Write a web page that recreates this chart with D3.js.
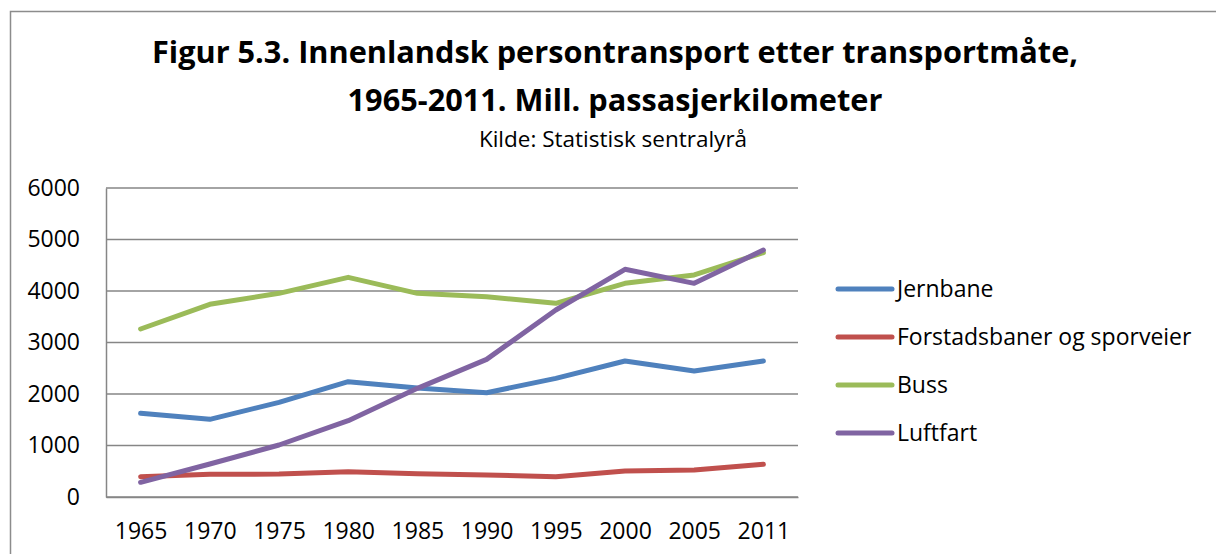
<!DOCTYPE html>
<html>
<head>
<meta charset="utf-8">
<script src="https://cdn.jsdelivr.net/npm/d3@7"></script>
<style>
  body { margin: 0; background: #fff; }
  text { font-family: "Open Sans", Lato, sans-serif; fill: #000; }
</style>
</head>
<body>
<div id="chart"></div>
<script>
var svgWidth = 1216;
var svgHeight = 554;

// data
var years = ["1965", "1970", "1975", "1980", "1985", "1990", "1995", "2000", "2005", "2011"];
var jernbane = [1625, 1508, 1838, 2239, 2116, 2025, 2304, 2641, 2447, 2641];
var forstad = [394, 440, 446, 492, 452, 427, 394, 505, 524, 634];
var buss = [3262, 3741, 3955, 4265, 3955, 3890, 3761, 4149, 4311, 4744];
var luftfart = [285, 641, 1010, 1482, 2110, 2673, 3631, 4421, 4149, 4796];
var seriesNames = ["Jernbane", "Forstadsbaner og sporveier", "Buss", "Luftfart"];
var seriesColors = ["#4F81BD", "#C0504D", "#9BBB59", "#8064A2"];
var yTicks = [0, 1000, 2000, 3000, 4000, 5000, 6000];

var series = [jernbane, forstad, buss, luftfart].map(function(vals, i) {
  return { name: seriesNames[i], color: seriesColors[i], values: vals };
});

var plot = { left: 106, right: 798, top: 188, bottom: 497 };

var svg = d3.select("#chart")
  .append("svg")
  .attr("width", svgWidth)
  .attr("height", svgHeight);

// outer chart frame
svg.append("rect")
  .attr("x", 10.5)
  .attr("y", 11.5)
  .attr("width", 1230)
  .attr("height", 600)
  .attr("fill", "none")
  .attr("stroke", "#8c8c8c")
  .attr("stroke-width", 1.5);

// titles
svg.append("text")
  .attr("x", 615)
  .attr("y", 63)
  .attr("text-anchor", "middle")
  .style("font-weight", "bold")
  .style("font-size", "30.7px")
  .text("Figur 5.3. Innenlandsk persontransport etter transportmåte,");

svg.append("text")
  .attr("x", 615)
  .attr("y", 111)
  .attr("text-anchor", "middle")
  .style("font-weight", "bold")
  .style("font-size", "30.7px")
  .text("1965-2011. Mill. passasjerkilometer");

svg.append("text")
  .attr("x", 613)
  .attr("y", 147)
  .attr("text-anchor", "middle")
  .style("font-size", "22.5px")
  .text("Kilde: Statistisk sentralyrå");

var x = d3.scalePoint()
  .domain(years)
  .range([plot.left, plot.right])
  .padding(0.5);

var y = d3.scaleLinear()
  .domain([0, 6000])
  .range([plot.bottom, plot.top]);

// gridlines
svg.append("g")
  .selectAll("line")
  .data(yTicks)
  .enter()
  .append("line")
  .attr("x1", plot.left)
  .attr("x2", plot.right)
  .attr("y1", d => y(d))
  .attr("y2", d => y(d))
  .attr("stroke", "#868686")
  .attr("stroke-width", 1.5);

// y axis
var leftAxis = d3.axisLeft(y)
  .tickValues(yTicks)
  .tickFormat(d3.format("d"))
  .tickSize(0)
  .tickPadding(26);
var yAxis = svg.append("g")
  .attr("transform", `translate(${plot.left},0)`)
  .call(leftAxis);
yAxis.select(".domain")
  .attr("stroke", "#868686")
  .attr("stroke-width", 1.5);
yAxis.selectAll("text")
  .style("font-size", "23px")
  .attr("fill", "#000");

// x axis
var bottomAxis = d3.axisBottom(x).tickSize(0).tickPadding(26);
var xAxis = svg.append("g")
  .attr("transform", `translate(0,${plot.bottom})`)
  .call(bottomAxis);
xAxis.select(".domain")
  .attr("stroke", "#868686")
  .attr("stroke-width", 1.5);
xAxis.selectAll("text")
  .style("font-size", "23px")
  .attr("fill", "#000");

// lines
var line = d3.line()
  .x((d, i) => x(years[i]))
  .y(d => y(d));

svg.append("g")
  .selectAll("path")
  .data(series)
  .enter()
  .append("path")
  .attr("d", d => line(d.values))
  .attr("fill", "none")
  .attr("stroke", d => d.color)
  .attr("stroke-width", 5)
  .attr("stroke-linejoin", "round")
  .attr("stroke-linecap", "round");

// legend
var legend = svg.append("g")
  .selectAll("g")
  .data(series)
  .enter()
  .append("g")
  .attr("transform", (d, i) => `translate(838,${289 + i * 48})`);

legend.append("line")
  .attr("x1", 0)
  .attr("x2", 54)
  .attr("stroke", d => d.color)
  .attr("stroke-width", 5)
  .attr("stroke-linecap", "round");

legend.append("text")
  .attr("x", 59)
  .attr("dy", "0.35em")
  .style("font-size", "23px")
  .text(d => d.name);
</script>
</body>
</html>
